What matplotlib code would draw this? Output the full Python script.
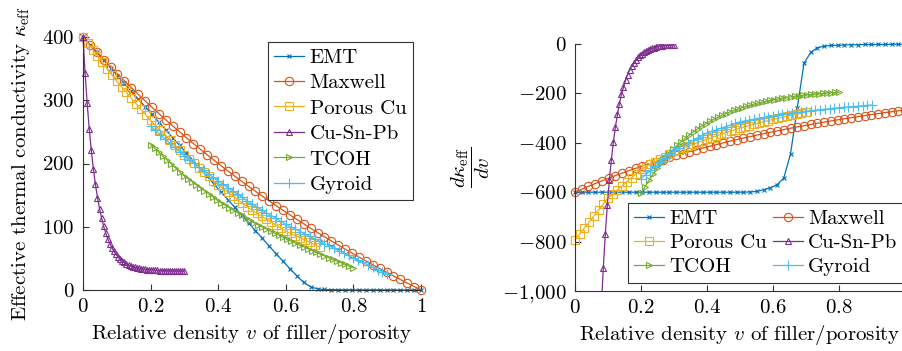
import numpy as np
import matplotlib
matplotlib.use('Agg')
import matplotlib.pyplot as plt

plt.rcParams['font.family'] = ['cmr10', 'DejaVu Serif']
plt.rcParams['mathtext.fontset'] = 'cm'
plt.rcParams['axes.unicode_minus'] = False
plt.rcParams['font.size'] = 15

# sample positions (relative density v)
v_full = np.linspace(0, 1, 50)
v_porous = np.linspace(0, 0.7, 50)
v_cu = np.linspace(0, 0.3, 50)
v_tcoh = np.linspace(0.2, 0.8, 50)
v_gyr = np.linspace(0.2, 0.9, 50)

# effective thermal conductivity (left)
k_emt = [400.0, 387.8, 375.5, 363.3, 351.0, 338.8, 326.5, 314.3, 302.0, 289.8,
         277.6, 265.3, 253.1, 240.8, 228.6, 216.3, 204.1, 191.8, 179.6, 167.3,
         155.1, 142.9, 130.6, 118.4, 106.1, 93.9, 81.6, 69.4, 57.3, 45.4,
         33.7, 22.4, 12.0, 5.0, 1.8, 0.8, 0.5, 0.4, 0.3, 0.2,
         0.2, 0.1, 0.1, 0.1, 0.1, 0.1, 0.0, 0.0, 0.0, 0.0]
k_maxwell = [400.0, 387.9, 376.0, 364.4, 352.9, 341.7, 330.8, 320.0, 309.4, 299.1,
             288.9, 278.9, 269.1, 259.5, 250.0, 240.7, 231.6, 222.6, 213.8, 205.1,
             196.6, 188.2, 180.0, 171.9, 163.9, 156.1, 148.4, 140.8, 133.3, 126.0,
             118.8, 111.6, 104.6, 97.7, 90.9, 84.2, 77.6, 71.1, 64.7, 58.4,
             52.2, 46.0, 40.0, 34.0, 28.2, 22.4, 16.7, 11.0, 5.5, 0.0]
k_porous = [400, 390, 380, 370, 360, 350, 340,
            330, 321.1, 312.3, 303.4, 294.6, 285.7, 276.9,
            268, 260.3, 252.6, 244.9, 237.1, 229.4, 221.7,
            214, 207.1, 200.3, 193.4, 186.6, 179.7, 172.9,
            166, 160.3, 154.6, 148.9, 143.1, 137.4, 131.7,
            126, 121.3, 116.6, 111.9, 107.1, 102.4, 97.7,
            93, 89.4, 85.9, 82.3, 78.7, 75.1, 71.6, 68]
k_cusnpb = [400.0, 343.6, 295.8, 255.2, 220.9, 191.8, 167.1, 146.2, 128.5, 113.5,
            100.7, 89.9, 80.8, 73.1, 66.5, 60.9, 56.2, 52.2, 48.8, 46.0,
            43.5, 41.5, 39.7, 38.2, 37.0, 35.9, 35.0, 34.3, 33.6, 33.0,
            32.6, 32.2, 31.9, 31.6, 31.3, 31.1, 31.0, 30.8, 30.7, 30.6,
            30.5, 30.4, 30.4, 30.3, 30.3, 30.2, 30.2, 30.2, 30.1, 30.1]
k_tcoh = [230.0, 223.9, 217.8, 211.6, 205.5, 199.4, 193.3, 187.1, 181.0, 176.1,
          171.2, 166.4, 161.7, 156.9, 152.1, 147.4, 142.6, 138.3, 134.3, 130.2,
          126.2, 122.1, 118.1, 114.0, 110.0, 106.3, 103.0, 99.7, 96.4, 93.1,
          89.8, 86.5, 83.2, 80.0, 77.1, 74.1, 71.2, 68.3, 65.3, 62.4,
          59.4, 56.6, 53.9, 51.2, 48.5, 45.8, 43.1, 40.4, 37.7, 35.0]
k_gyroid = [259, 252.3, 245.6, 238.9, 232.1, 225.4, 218.7,
            212, 206.3, 200.6, 194.9, 189.1, 183.4, 177.7,
            172, 166.9, 161.7, 156.6, 151.4, 146.3, 141.1,
            136, 131.4, 126.9, 122.3, 117.7, 113.1, 108.6,
            104, 100.1, 96.3, 92.4, 88.6, 84.7, 80.9,
            77, 73.3, 69.6, 65.9, 62.1, 58.4, 54.7,
            51, 47.3, 43.6, 39.9, 36.1, 32.4, 28.7, 25]

# derivative d kappa / dv (right)
d_emt = [-600, -600, -600, -600, -600, -600, -600, -600, -600, -600,
         -600, -600, -600, -600, -600, -600, -600, -600, -600, -600,
         -600, -600, -600, -600, -600, -600, -599, -597, -590, -582,
         -570, -543, -445, -260, -78, -34, -15, -9, -6, -5,
         -4, -3, -3, -2, -2, -2, -2, -1, -1, -1]
d_maxwell = [-600.0, -587.9, -576.2, -564.9, -553.9, -543.2, -532.8, -522.7, -512.9, -503.3,
             -494.0, -485.0, -476.2, -467.7, -459.4, -451.3, -443.4, -435.7, -428.2, -421.0,
             -413.9, -406.9, -400.2, -393.6, -387.2, -380.9, -374.8, -368.8, -363.0, -357.3,
             -351.7, -346.3, -341.0, -335.8, -330.7, -325.8, -320.9, -316.2, -311.6, -307.0,
             -302.6, -298.2, -294.0, -289.8, -285.8, -281.8, -277.9, -274.1, -270.3, -266.7]
d_porous = [-793, -768.9, -744.7, -720.6, -696.4, -672.3, -648.1,
            -624, -607.4, -590.9, -574.3, -557.7, -541.1, -524.6,
            -508, -497.6, -487.1, -476.7, -466.3, -455.9, -445.4,
            -435, -427.9, -420.7, -413.6, -406.4, -399.3, -392.1,
            -385, -378.6, -372.1, -365.7, -359.3, -352.9, -346.4,
            -340, -335, -330, -325, -320, -315, -310,
            -305, -300.9, -296.7, -292.6, -288.4, -284.3, -280.1, -276]
# Cu-Sn-Pb from the 14th sample on (earlier ones lie far below -1000)
d_cusnpb = [-1071, -907, -769, -651, -552, -468, -397, -336, -285, -241,
            -204, -174, -147, -124, -106, -89, -75, -64, -54, -46,
            -40, -33, -29, -24, -20, -17, -15, -12, -10, -9,
            -7, -6, -6, -5, -4, -4, -3]
d_tcoh = [-605.0, -577.0, -550.9, -526.5, -503.7, -482.5, -462.6, -444.0, -426.6, -410.4,
          -395.2, -381.1, -367.9, -355.5, -344.0, -333.2, -323.1, -313.7, -304.9, -296.7,
          -289.0, -281.8, -275.1, -268.9, -263.0, -257.6, -252.5, -247.7, -243.3, -239.1,
          -235.2, -231.6, -228.2, -225.0, -222.1, -219.3, -216.7, -214.3, -212.0, -209.9,
          -208.0, -206.1, -204.4, -202.8, -201.3, -199.9, -198.6, -197.4, -196.2, -195.2]
d_gyroid = [-545, -528.6, -512.1, -495.7, -479.3, -462.9, -446.4,
            -430, -420, -410, -400, -390, -380, -370,
            -360, -353.6, -347.1, -340.7, -334.3, -327.9, -321.4,
            -315, -311.4, -307.9, -304.3, -300.7, -297.1, -293.6,
            -290, -287.4, -284.9, -282.3, -279.7, -277.1, -274.6,
            -272, -270, -268, -266, -264, -262, -260,
            -258, -256.4, -254.9, -253.3, -251.7, -250.1, -248.6, -247]

names = ['EMT', 'Maxwell', 'Porous Cu', 'Cu-Sn-Pb', 'TCOH', 'Gyroid']
colors = ['#0072BD', '#D95319', '#EDB120', '#7E2F8E', '#77AC30', '#4DBEEE']
markers = ['x', 'o', 's', '^', '>', '+']
msizes = [3.5, 6, 6, 5, 5, 6.5]

fig = plt.figure(figsize=(9.03, 3.51), dpi=100)
axl = fig.add_axes([83/903, 1-290/351, 338/903, 253/351])
axr = fig.add_axes([575/903, 1-291/351, 330/903, 247/351])

left_x = [v_full, v_full, v_porous, v_cu, v_tcoh, v_gyr]
left_y = [k_emt, k_maxwell, k_porous, k_cusnpb, k_tcoh, k_gyroid]
right_x = [v_full, v_full, v_porous, v_cu[13:], v_tcoh, v_gyr]
right_y = [d_emt, d_maxwell, d_porous, d_cusnpb, d_tcoh, d_gyroid]

hr = []
for i in range(6):
    st = dict(color=colors[i], marker=markers[i], ms=msizes[i], lw=0.9,
              mfc='none', mew=0.8, label=names[i])
    axl.plot(left_x[i], left_y[i], clip_on=False, **st)
    hr += axr.plot(right_x[i], right_y[i], clip_on=(names[i] == 'Cu-Sn-Pb'), **st)

for ax in (axl, axr):
    for s in ('top', 'right'):
        ax.spines[s].set_visible(False)
    for s in ('left', 'bottom'):
        ax.spines[s].set_color('#333333')
        ax.spines[s].set_linewidth(0.8)
    ax.tick_params(direction='in', length=4, width=0.8, color='#333333',
                   labelsize=15, pad=6)
    ax.set_xlim(0, 1)
    ax.set_xticks([0, 0.2, 0.4, 0.6, 0.8, 1])
    ax.set_xticklabels(['$0$', '$0.2$', '$0.4$', '$0.6$', '$0.8$', '$1$'])
    ax.set_xlabel('Relative density $v$ of filler/porosity', fontsize=15)

axl.set_ylim(0, 400)
axl.set_yticks([0, 100, 200, 300, 400])
axl.set_yticklabels(['$0$', '$100$', '$200$', '$300$', '$400$'])
axl.set_ylabel(r'Effective thermal conductivity $\kappa_{\mathrm{eff}}$', fontsize=15)
axl.yaxis.set_label_coords(-0.15, 0.5)
axl.xaxis.set_label_coords(0.5, -0.125)

axr.set_ylim(-1000, 0)
axr.set_yticks([-1000, -800, -600, -400, -200, 0])
axr.set_yticklabels(['$-1{,}000$', '$-800$', '$-600$', '$-400$', '$-200$', '$0$'])
axr.set_ylabel(r'$\dfrac{d\kappa_{\mathrm{eff}}}{dv}$', fontsize=15)
axr.yaxis.set_label_coords(-0.25, 0.5)
axr.xaxis.set_label_coords(0.5, -0.13)

leg_style = dict(fontsize=15, fancybox=False, framealpha=1, edgecolor='#333333',
                 handlelength=1.45, handletextpad=0.25,
                 borderpad=0.3, borderaxespad=0)
legl = axl.legend(loc='upper left', bbox_to_anchor=(268/903, 1-42/351),
                  bbox_transform=fig.transFigure, labelspacing=0.33, **leg_style)
# row-wise order in two columns
order = [0, 2, 4, 1, 3, 5]
legr = axr.legend([hr[i] for i in order], [names[i] for i in order],
                  loc='upper left', bbox_to_anchor=(628/903, 1-203/351),
                  bbox_transform=fig.transFigure, ncol=2, columnspacing=0.3,
                  labelspacing=0.27, **leg_style)
for leg in (legl, legr):
    leg.get_frame().set_linewidth(0.8)
    leg.set_zorder(5)

fig.savefig('out.png', dpi=100)
